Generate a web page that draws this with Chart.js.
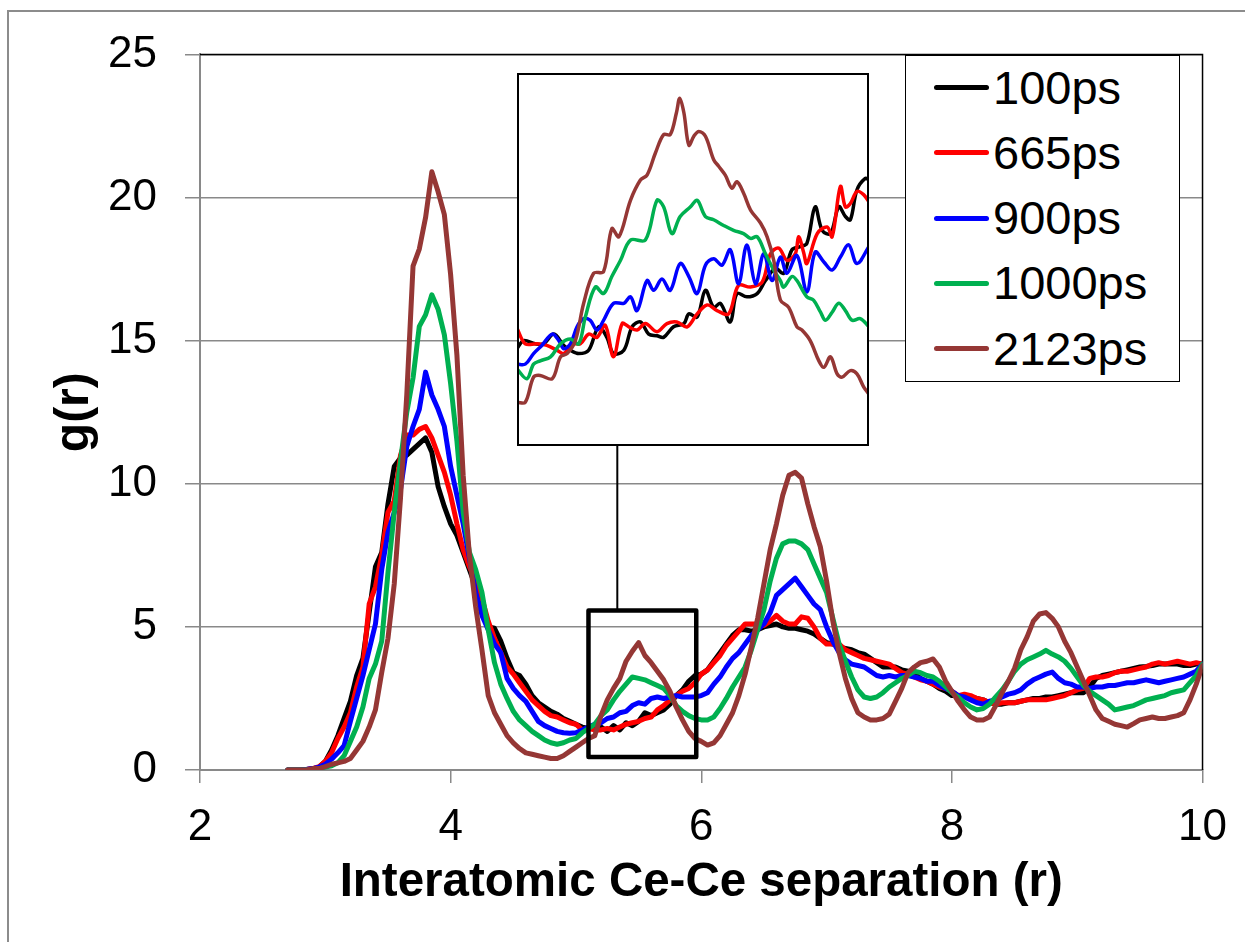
<!DOCTYPE html>
<html>
<head>
<meta charset="utf-8">
<script src="https://cdn.jsdelivr.net/npm/chart.js@4.4.1/dist/chart.umd.min.js"></script>
<style>
html,body{margin:0;padding:0;background:#fff;}
#wrap{position:relative;width:1245px;height:942px;overflow:hidden;background:#fff;font-family:'Liberation Sans',Arial,sans-serif;}
#main{position:absolute;left:0;top:0;}
#inset{position:absolute;left:517px;top:73px;background:#fff;}
.frameTop{position:absolute;left:7px;top:10px;width:1238px;height:2px;background:#8c8c8c;}
.frameLeft{position:absolute;left:7px;top:10px;width:2px;height:932px;background:#8c8c8c;}
#legend{position:absolute;left:905px;top:55px;width:273px;height:325px;border:1.5px solid #000;background:#fff;}
.lg-line{position:absolute;left:28px;width:55px;height:5px;border-radius:2.5px;}
.lg-text{position:absolute;left:87px;height:50px;line-height:50px;font-size:47px;color:#000;white-space:nowrap;}
</style>
</head>
<body>
<div id="wrap">
  <div class="frameTop"></div>
  <div class="frameLeft"></div>
  <canvas id="main" width="1245" height="942"></canvas>
  <canvas id="inset" width="352" height="373"></canvas>
  <div id="legend"></div>
</div>
<script>
// ---------- DATA ----------
const seriesNames = ['100ps', '665ps', '900ps', '1000ps', '2123ps'];
const seriesColors = ['#000000', '#ff0000', '#0000ff', '#00b050', '#953735'];

const rValues = [
 2.70,2.75,2.80,2.85,2.90,2.95,3.00,3.05,3.10,3.15,
 3.20,3.25,3.30,3.35,3.40,3.45,3.50,3.55,3.60,3.65,
 3.70,3.75,3.80,3.85,3.90,3.95,4.00,4.05,4.10,4.15,
 4.20,4.25,4.30,4.35,4.40,4.45,4.50,4.55,4.60,4.65,
 4.70,4.75,4.80,4.85,4.90,4.95,5.00,5.05,5.10,5.15,
 5.20,5.25,5.30,5.35,5.40,5.45,5.50,5.55,5.60,5.65,
 5.70,5.75,5.80,5.85,5.90,5.95,6.00,6.05,6.10,6.15,
 6.20,6.25,6.30,6.35,6.40,6.45,6.50,6.55,6.60,6.65,
 6.70,6.75,6.80,6.85,6.90,6.95,7.00,7.05,7.10,7.15,
 7.20,7.25,7.30,7.35,7.40,7.45,7.50,7.55,7.60,7.65,
 7.70,7.75,7.80,7.85,7.90,7.95,8.00,8.05,8.10,8.15,
 8.20,8.25,8.30,8.35,8.40,8.45,8.50,8.55,8.60,8.65,
 8.70,8.75,8.80,8.85,8.90,8.95,9.00,9.05,9.10,9.15,
 9.20,9.25,9.30,9.35,9.40,9.45,9.50,9.55,9.60,9.65,
 9.70,9.75,9.80,9.85,9.90,9.95,10.00];

const g100ps = [
 0,0,0,0.02,0.05,0.1,0.3,0.7,1.2,1.8,
 2.4,3.3,3.9,5.5,7.1,7.6,9.3,10.6,10.9,11.0,
 11.2,11.4,11.6,11.1,9.9,9.2,8.6,8.2,7.6,7.0,
 6.4,5.5,5.0,4.95,4.5,3.9,3.4,3.3,3.0,2.6,
 2.35,2.2,2.05,1.95,1.8,1.7,1.6,1.5,1.45,1.45,
 1.5,1.35,1.55,1.4,1.65,1.55,1.7,2.0,1.9,2.0,
 2.1,2.3,2.6,2.8,3.1,3.3,3.35,3.5,3.8,4.1,
 4.4,4.7,4.9,4.9,4.85,4.9,5.0,5.05,5.1,5.0,
 4.95,4.95,4.9,4.85,4.75,4.6,4.45,4.4,4.3,4.25,
 4.2,4.1,4.05,3.9,3.75,3.6,3.6,3.6,3.5,3.45,
 3.35,3.2,3.1,3.0,2.85,2.75,2.6,2.6,2.6,2.55,
 2.5,2.45,2.35,2.3,2.3,2.35,2.35,2.4,2.45,2.5,
 2.5,2.55,2.55,2.6,2.65,2.7,2.7,2.7,2.9,3.2,
 3.3,3.35,3.4,3.45,3.5,3.55,3.6,3.62,3.65,3.7,
 3.7,3.7,3.7,3.65,3.65,3.7,3.7];

const g665ps = [
 0,0,0,0.02,0.05,0.12,0.3,0.6,1.1,1.5,
 2.0,2.9,3.6,5.8,6.4,7.5,9.0,9.4,11.0,11.7,
 11.7,11.9,12.0,11.6,11.0,10.4,9.6,8.6,7.7,7.1,
 6.6,6.0,5.2,4.6,4.1,3.6,3.35,3.05,2.75,2.45,
 2.25,2.05,1.9,1.85,1.75,1.65,1.6,1.4,1.45,1.4,
 1.4,1.45,1.4,1.5,1.6,1.65,1.7,1.8,1.85,2.1,
 2.25,2.45,2.6,2.75,2.85,3.05,3.35,3.5,3.75,4.0,
 4.35,4.6,4.85,5.1,5.1,5.1,5.05,5.2,5.4,5.2,
 5.1,5.1,5.35,5.3,5.0,4.6,4.4,4.4,4.4,4.2,
 4.1,4.0,3.9,3.85,3.8,3.75,3.7,3.55,3.4,3.35,
 3.25,3.15,3.1,3.0,2.9,2.85,2.75,2.6,2.65,2.6,
 2.5,2.45,2.35,2.3,2.35,2.35,2.35,2.4,2.45,2.45,
 2.45,2.45,2.5,2.55,2.6,2.7,2.8,2.85,3.2,3.25,
 3.25,3.3,3.4,3.45,3.45,3.5,3.55,3.6,3.7,3.75,
 3.7,3.75,3.8,3.75,3.7,3.75,3.7];

const g900ps = [
 0,0,0,0.02,0.05,0.1,0.2,0.38,0.6,0.85,
 1.7,2.5,3.3,4.2,5.1,7.0,8.3,9.0,9.8,11.3,
 12.0,12.6,13.9,13.1,12.6,12.0,10.6,9.6,8.6,7.4,
 6.2,5.4,4.9,4.4,4.1,3.2,2.85,2.6,2.4,2.05,
 1.7,1.55,1.45,1.35,1.3,1.28,1.3,1.4,1.5,1.6,
 1.65,1.8,1.85,2.0,2.05,2.25,2.35,2.3,2.5,2.55,
 2.5,2.55,2.6,2.55,2.55,2.55,2.6,2.7,3.0,3.25,
 3.6,3.9,4.1,4.4,4.7,4.9,5.1,5.5,6.1,6.3,
 6.5,6.7,6.4,6.1,5.8,5.6,5.0,4.5,4.1,3.85,
 3.7,3.65,3.6,3.45,3.3,3.25,3.3,3.25,3.3,3.3,
 3.25,3.2,3.1,3.1,2.95,2.85,2.75,2.6,2.55,2.45,
 2.35,2.3,2.4,2.45,2.55,2.65,2.7,2.8,3.0,3.15,
 3.25,3.35,3.42,3.2,3.05,3.0,2.9,2.9,2.85,2.9,
 2.9,2.95,2.95,3.0,3.05,3.05,3.1,3.15,3.1,3.05,
 3.1,3.15,3.2,3.25,3.35,3.45,3.7];

const g1000ps = [
 0,0,0,0,0.02,0.05,0.1,0.15,0.25,0.5,
 1.0,1.5,2.2,3.2,3.7,4.5,6.9,9.0,10.8,12.5,
 13.7,15.5,15.9,16.6,16.1,15.2,13.5,11.5,9.0,7.6,
 7.0,6.2,4.9,3.75,3.0,2.5,2.05,1.75,1.55,1.35,
 1.2,1.05,0.95,0.9,0.95,1.05,1.1,1.3,1.45,1.6,
 1.9,2.1,2.45,2.75,3.0,3.25,3.2,3.15,3.05,2.95,
 2.85,2.6,2.25,2.05,1.9,1.8,1.75,1.75,1.85,2.15,
 2.5,2.9,3.25,3.6,4.2,4.9,5.6,6.6,7.4,7.9,
 8.0,8.0,7.9,7.7,7.2,6.7,6.2,5.3,4.4,3.8,
 3.25,2.8,2.55,2.5,2.55,2.7,2.9,3.05,3.2,3.3,
 3.45,3.4,3.3,3.25,3.1,2.9,2.7,2.55,2.35,2.2,
 2.1,2.15,2.3,2.55,2.8,3.1,3.45,3.7,3.85,3.95,
 4.05,4.18,4.05,3.95,3.8,3.55,3.25,2.95,2.75,2.6,
 2.45,2.3,2.1,2.15,2.2,2.25,2.35,2.45,2.5,2.55,
 2.6,2.7,2.75,2.8,3.05,3.3,3.7];

const g2123ps = [
 0,0,0,0,0.05,0.05,0.12,0.2,0.25,0.3,
 0.4,0.7,1.0,1.5,2.1,3.4,4.6,6.5,9.5,13.1,
 17.6,18.2,19.3,20.9,20.2,19.4,17.3,14.5,10.3,7.5,
 5.7,4.2,2.6,2.0,1.6,1.2,0.95,0.75,0.6,0.55,
 0.5,0.45,0.4,0.4,0.5,0.65,0.8,0.95,1.1,1.2,
 1.9,2.45,2.85,3.2,3.8,4.15,4.45,4.0,3.75,3.45,
 3.15,2.75,2.2,1.75,1.35,1.1,1.0,0.87,0.95,1.2,
 1.6,2.0,2.6,3.35,4.3,5.3,6.5,7.7,8.6,9.6,
 10.3,10.4,10.2,9.3,8.5,7.8,6.6,5.2,4.1,3.2,
 2.5,2.0,1.85,1.75,1.75,1.8,1.95,2.4,2.85,3.4,
 3.6,3.75,3.8,3.88,3.6,3.1,2.75,2.4,2.1,1.85,
 1.75,1.75,1.85,2.25,2.7,3.1,3.55,4.2,4.65,5.2,
 5.45,5.5,5.3,5.0,4.5,4.1,3.6,3.1,2.6,2.1,
 1.8,1.7,1.6,1.55,1.5,1.62,1.75,1.8,1.85,1.8,
 1.8,1.85,1.9,2.0,2.45,3.0,3.65];

// Inset (magnified view of the boxed region)
const insetR100 = [5.100,5.116,5.144,5.164,5.189,5.213,5.229,5.249,5.273,5.297,5.317,5.333,5.358,5.378,5.398,5.418,5.438,5.454,5.478,5.503,5.515,5.535,5.555,5.575,5.591,5.615,5.631,5.655,5.680,5.700,5.724,5.744,5.764,5.784,5.800,5.820,5.837,5.857,5.877,5.893,5.905,5.921,5.941,5.950];
const insetG100 = [1.40,1.50,1.46,1.46,1.58,1.44,1.38,1.34,1.38,1.67,1.54,1.34,1.38,1.67,1.73,1.58,1.56,1.54,1.67,1.71,1.83,1.79,2.12,1.91,1.96,1.73,2.08,2.04,2.08,2.24,2.39,2.33,2.62,2.66,2.70,3.15,2.86,2.82,3.15,3.03,2.99,3.36,3.50,3.48];
const insetR665 = [5.100,5.120,5.148,5.172,5.197,5.213,5.233,5.253,5.273,5.293,5.313,5.333,5.354,5.370,5.390,5.410,5.438,5.462,5.486,5.511,5.535,5.559,5.583,5.611,5.635,5.664,5.692,5.712,5.732,5.752,5.772,5.780,5.792,5.800,5.825,5.849,5.861,5.881,5.893,5.905,5.921,5.937,5.950];
const insetG665 = [1.65,1.46,1.46,1.44,1.38,1.34,1.46,1.46,1.58,1.54,1.69,1.30,1.71,1.67,1.63,1.71,1.61,1.71,1.73,1.67,1.83,1.94,1.87,1.83,2.18,2.16,2.22,2.57,2.64,2.49,2.57,2.78,2.59,2.45,2.82,2.90,2.78,3.40,3.15,3.19,3.34,3.30,3.21];
const insetR900 = [5.100,5.120,5.140,5.160,5.185,5.201,5.213,5.229,5.245,5.261,5.277,5.293,5.309,5.333,5.358,5.374,5.390,5.414,5.430,5.450,5.470,5.494,5.515,5.535,5.555,5.575,5.595,5.615,5.635,5.655,5.676,5.696,5.716,5.736,5.752,5.776,5.800,5.820,5.841,5.861,5.881,5.901,5.921,5.950];
const insetG900 = [1.21,1.21,1.34,1.44,1.58,1.50,1.40,1.46,1.67,1.77,1.75,1.63,1.75,1.96,1.96,2.04,1.87,2.24,2.12,2.26,2.12,2.45,2.29,2.08,2.43,2.51,2.43,2.62,2.20,2.68,2.20,2.57,2.24,2.53,2.33,2.55,2.10,2.59,2.47,2.37,2.53,2.68,2.45,2.66];
const insetR1000 = [5.100,5.124,5.140,5.156,5.181,5.205,5.229,5.249,5.265,5.289,5.309,5.329,5.350,5.374,5.410,5.438,5.454,5.474,5.494,5.519,5.535,5.555,5.575,5.599,5.623,5.647,5.664,5.680,5.700,5.720,5.736,5.744,5.764,5.776,5.800,5.816,5.833,5.845,5.861,5.877,5.893,5.909,5.929,5.950];
const insetG1000 = [1.15,1.03,1.21,1.25,1.30,1.46,1.52,1.46,1.79,2.16,2.08,2.29,2.49,2.74,2.74,3.23,3.15,2.82,3.03,3.15,3.23,3.03,2.99,2.92,2.86,2.82,2.76,2.78,2.57,2.37,2.24,2.16,2.29,2.24,2.04,2.00,1.85,1.75,1.85,1.96,1.87,1.75,1.77,1.67];
const insetR2123 = [5.100,5.120,5.140,5.156,5.185,5.205,5.221,5.241,5.261,5.285,5.309,5.329,5.346,5.374,5.398,5.414,5.434,5.454,5.470,5.485,5.493,5.503,5.515,5.527,5.539,5.555,5.575,5.587,5.603,5.619,5.631,5.647,5.664,5.688,5.704,5.720,5.736,5.756,5.776,5.788,5.808,5.829,5.841,5.857,5.873,5.885,5.905,5.921,5.937,5.950];
const insetG2123 = [0.74,0.74,1.05,1.07,1.03,1.30,1.34,1.50,1.96,2.33,2.35,2.88,2.78,3.23,3.48,3.54,3.81,4.04,4.04,4.31,4.49,4.31,3.91,4.02,4.08,4.02,3.73,3.65,3.54,3.38,3.46,3.32,3.11,2.95,2.78,2.49,2.00,1.91,1.67,1.63,1.50,1.25,1.17,1.30,1.09,1.05,1.13,1.09,0.93,0.84];

const xTicks = [2, 4, 6, 8, 10];
const yTicks = [0, 5, 10, 15, 20, 25];
const zoomRegion = {r0: 5.10, r1: 5.96, g0: 0.45, g1: 5.57, rLink: 5.33};
const insetRange = {r0: 5.10, r1: 5.95, g0: 0.2, g1: 4.8};

// ---------- CHART ----------
const FONT = "'Liberation Sans', Arial, sans-serif";
const GRID = '#898989';
const mainSeries = [g100ps, g665ps, g900ps, g1000ps, g2123ps];
const insetSeries = [[insetR100, insetG100], [insetR665, insetG665], [insetR900, insetG900], [insetR1000, insetG1000], [insetR2123, insetG2123]];

const framePlugin = {
  id: 'frame',
  beforeDatasetsDraw(chart) {
    const {ctx, chartArea: a} = chart;
    ctx.save();
    ctx.strokeStyle = '#000';
    ctx.lineWidth = 1.5;
    ctx.beginPath();
    ctx.moveTo(a.left, a.top);
    ctx.lineTo(a.right, a.top);
    ctx.lineTo(a.right, a.bottom);
    ctx.stroke();
    ctx.restore();
  },
  afterDatasetsDraw(chart) {
    const {ctx, scales: {x, y}} = chart;
    const L = x.getPixelForValue(zoomRegion.r0), R = x.getPixelForValue(zoomRegion.r1);
    const T = y.getPixelForValue(zoomRegion.g1), B = y.getPixelForValue(zoomRegion.g0);
    const lx = x.getPixelForValue(zoomRegion.rLink);
    const insetEl = document.getElementById('inset');
    const insetBottom = insetEl.offsetTop + insetEl.height;
    ctx.save();
    ctx.strokeStyle = '#000';
    ctx.lineWidth = 2;
    ctx.beginPath();
    ctx.moveTo(lx, insetBottom);
    ctx.lineTo(lx, T);
    ctx.stroke();
    ctx.lineWidth = 4.5;
    ctx.lineJoin = 'round';
    ctx.strokeRect(L, T, R - L, B - T);
    ctx.restore();
  }
};

new Chart(document.getElementById('main'), {
  type: 'line',
  data: {
    datasets: mainSeries.map((s, i) => ({
      label: seriesNames[i],
      data: rValues.map((r, k) => ({x: r, y: s[k]})),
      borderColor: seriesColors[i],
      backgroundColor: seriesColors[i],
      borderWidth: 5,
      order: 5 - i
    }))
  },
  options: {
    responsive: false,
    animation: false,
    events: [],
    layout: {padding: {top: 52, right: 41, bottom: 0, left: 0}},
    elements: {
      point: {radius: 0},
      line: {borderWidth: 5, tension: 0, borderJoinStyle: 'round', borderCapStyle: 'round'}
    },
    plugins: {legend: {display: false}, tooltip: {enabled: false}},
    scales: {
      x: {
        type: 'linear', min: 2, max: 10,
        afterFit: s => { s.height = 172; },
        afterBuildTicks: s => { s.ticks = xTicks.map(v => ({value: v})); },
        ticks: {color: '#000', font: {family: FONT, size: 44}, padding: 18, maxRotation: 0, autoSkip: false},
        grid: {drawOnChartArea: false, drawTicks: true, tickLength: 13, color: GRID, lineWidth: 1.5},
        border: {color: GRID, width: 2},
        title: {display: true, text: 'Interatomic Ce-Ce separation (r)', color: '#000',
                font: {family: FONT, size: 47.5, weight: 'bold'}, padding: {top: 0, bottom: 31}}
      },
      y: {
        min: 0, max: 25,
        afterFit: s => { s.width = 200; },
        afterBuildTicks: s => { s.ticks = yTicks.map(v => ({value: v})); },
        ticks: {color: '#000', font: {family: FONT, size: 44}, padding: 28},
        grid: {color: GRID, lineWidth: 1.5, tickLength: 15},
        border: {color: GRID, width: 2},
        title: {display: true, text: 'g(r)', color: '#000',
                font: {family: FONT, size: 48, weight: 'bold'}, padding: {top: 46, bottom: 0}}
      }
    }
  },
  plugins: [framePlugin]
});

const insetBorder = {
  id: 'insetBorder',
  beforeDraw(chart) {
    const {ctx, width, height} = chart;
    ctx.save();
    ctx.fillStyle = '#fff';
    ctx.fillRect(0, 0, width, height);
    ctx.restore();
  },
  afterDraw(chart) {
    const {ctx, width, height} = chart;
    ctx.save();
    ctx.strokeStyle = '#000';
    ctx.lineWidth = 2;
    ctx.strokeRect(1, 1, width - 2, height - 2);
    ctx.restore();
  }
};

new Chart(document.getElementById('inset'), {
  type: 'line',
  data: {
    datasets: insetSeries.map((p, i) => ({
      label: seriesNames[i],
      data: p[0].map((r, k) => ({x: r, y: p[1][k]})),
      borderColor: seriesColors[i],
      order: 5 - i
    }))
  },
  options: {
    responsive: false,
    animation: false,
    events: [],
    layout: {padding: 0},
    elements: {point: {radius: 0}, line: {borderWidth: 3.5, tension: 0.35, borderJoinStyle: 'round', borderCapStyle: 'round'}},
    plugins: {legend: {display: false}, tooltip: {enabled: false}},
    scales: {
      x: {type: 'linear', display: false, min: insetRange.r0, max: insetRange.r1},
      y: {display: false, min: insetRange.g0, max: insetRange.g1}
    }
  },
  plugins: [insetBorder]
});

// ---------- LEGEND ----------
const legend = document.getElementById('legend');
seriesNames.forEach((name, i) => {
  const cy = 31.5 + 65.25 * i;
  const line = document.createElement('div');
  line.className = 'lg-line';
  line.style.top = (cy - 2.5) + 'px';
  line.style.background = seriesColors[i];
  legend.appendChild(line);
  const t = document.createElement('div');
  t.className = 'lg-text';
  t.style.top = (cy - 25) + 'px';
  t.textContent = name;
  legend.appendChild(t);
});
</script>
</body>
</html>
